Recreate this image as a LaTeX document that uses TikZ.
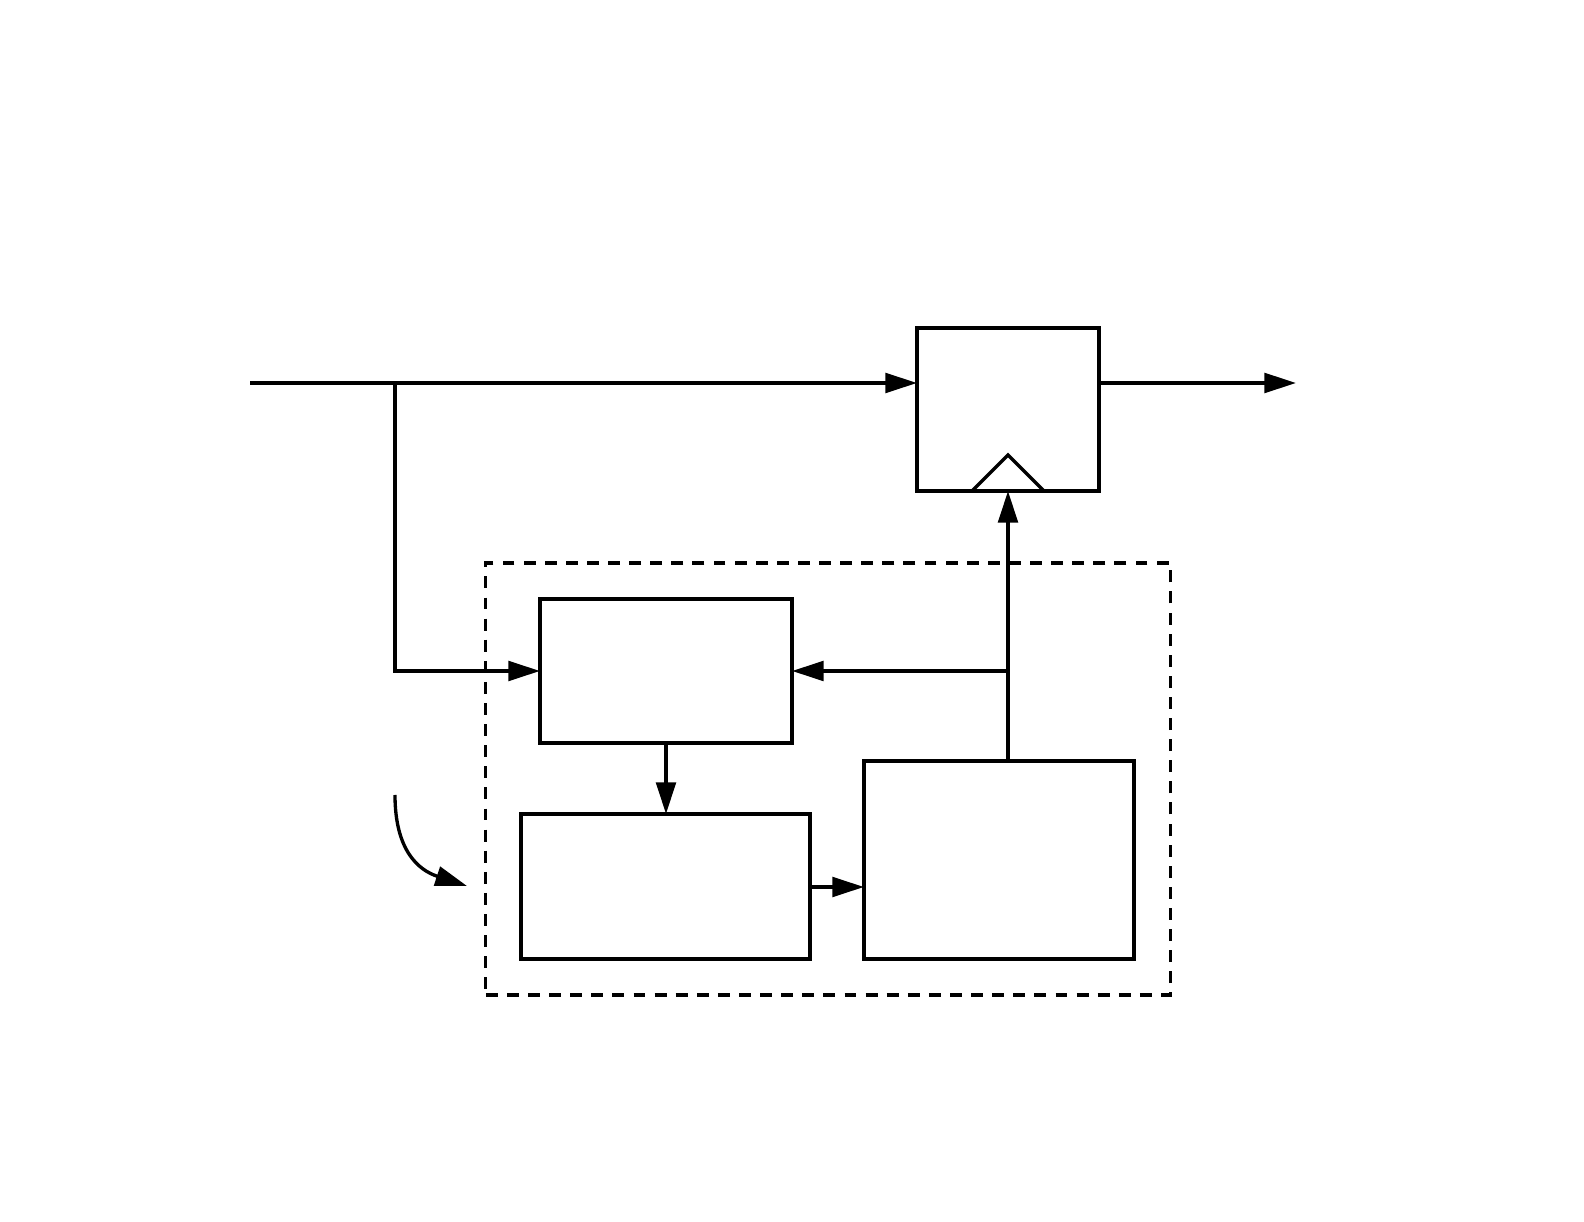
\documentclass[tikz,border=0pt]{standalone}
\usetikzlibrary{arrows.meta,calc}
\begin{document}
\begin{tikzpicture}[x=0.01cm,y=-0.01cm,
  line width=0.95pt,
  box/.style={draw,rectangle,outer sep=0pt,inner sep=0pt},
  conn/.style={-{Triangle[length=9pt,width=5.6pt]}},
  dashbox/.style={draw,dash pattern=on 3.4pt off 2.6pt}]
\useasboundingbox (0,0) rectangle (1584,1222);
\node[box,minimum width=1.82cm,minimum height=1.63cm] (reg) at (1008,409.5) {};
\node[box,minimum width=2.52cm,minimum height=1.44cm] (A) at (666,671) {};
\node[box,minimum width=2.89cm,minimum height=1.45cm] (B) at (665.5,886.5) {};
\node[box,minimum width=2.70cm,minimum height=1.98cm] (C) at (999,860) {};
\node[box,dashbox,minimum width=6.84cm,minimum height=4.32cm] (grp) at (828,779) {};
% clock triangle
\draw ($(reg.south)+(-36,0)$) -- ($(reg.south)+(0,-36)$) -- ($(reg.south)+(36,0)$);
\coordinate (in) at (250,383);
\coordinate (br) at (395,383);
\coordinate (out) at (1296,383);
\draw[conn] (in) -- (reg.west |- in);
\draw[conn] (reg.east |- out) -- (out);
\draw[conn] (br) |- (A.west);
\draw[conn] (A.south) -- (A.south |- B.north);
\draw[conn] (B.east |- 0,887) -- (C.west |- 0,887);
\draw[conn] (reg.south |- C.north) -- (reg.south);
\draw[conn] (reg.south |- A.east) -- (A.east);
\coordinate (cs) at (395,795);
\coordinate (ce) at (467,886);
\draw[conn] (cs) .. controls (395,850) and (418,870) .. (ce);
\end{tikzpicture}
\end{document}
